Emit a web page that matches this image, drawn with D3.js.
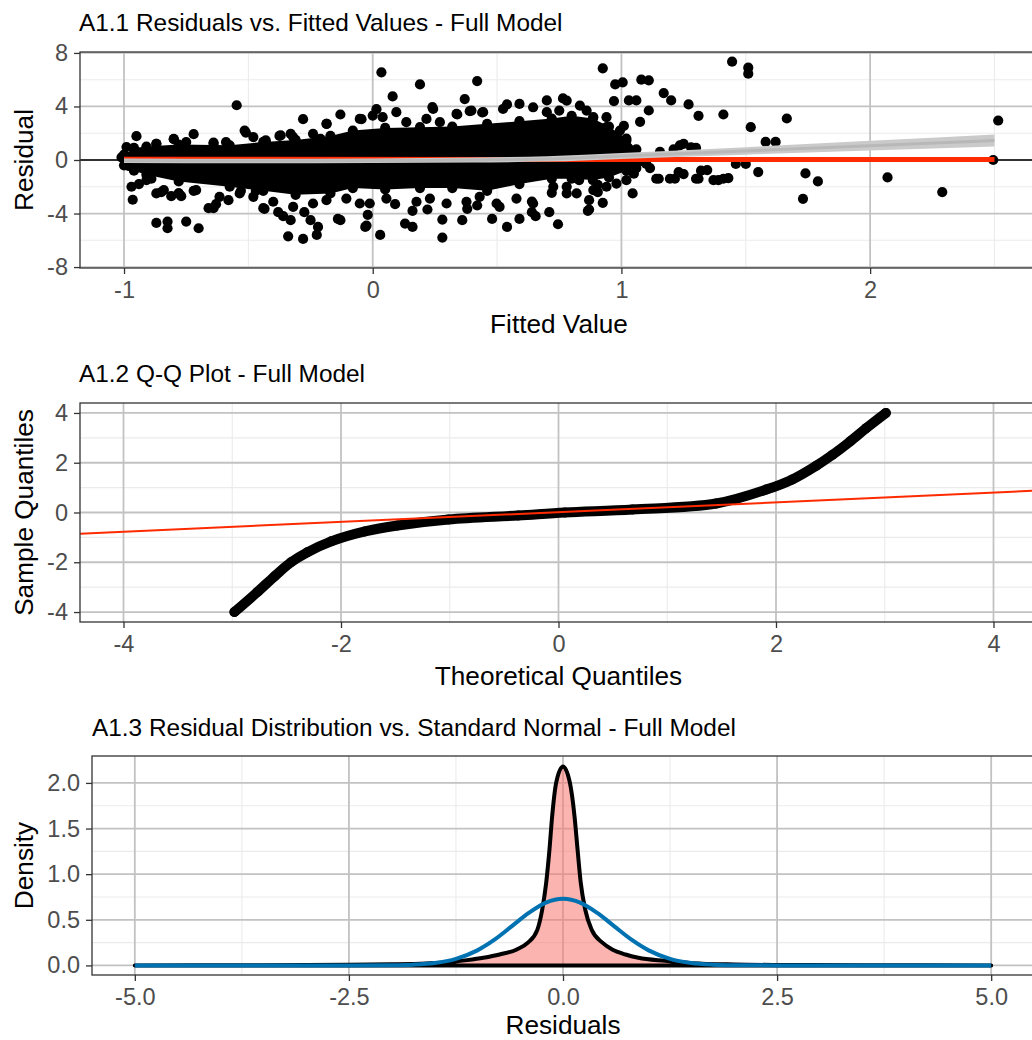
<!DOCTYPE html>
<html>
<head>
<meta charset="utf-8">
<script src="https://cdn.jsdelivr.net/npm/d3@7"></script>
<style>
  body { margin: 0; background: #fff; }
</style>
</head>
<body>
<div id="chart-area"></div>
<script>
// ---------- A1.1 residuals vs fitted ----------
var fitTicks = [-1, 0, 1, 2];
var fitTickLabels = ["-1", "0", "1", "2"];
var residTicks = [-8, -4, 0, 4, 8];
var residTickLabels = ["-8", "-4", "0", "4", "8"];

// dense core of the point cloud (upper / lower edge per fitted value)
var coreX  = [-1.0, -0.96, -0.91, -0.78, -0.575, -0.44, -0.31, -0.17, -0.08, 0.05, 0.19, 0.32, 0.46, 0.59, 0.72, 0.8, 0.885, 0.95, 1.02, 1.06, 1.1];
var coreUp = [0.4, 0.9, 1.0, 1.15, 1.1, 1.35, 1.5, 1.8, 2.2, 2.4, 2.45, 2.5, 2.7, 2.9, 3.1, 3.3, 3.1, 2.5, 1.6, 0.8, 0.2];
var coreLo = [-0.4, -0.8, -1.1, -1.6, -2.0, -2.3, -2.6, -2.5, -2.1, -2.2, -2.1, -2.1, -2.3, -1.8, -1.4, -1.4, -1.5, -1.3, -0.8, -0.6, -0.3];

// single points around and outside the core
var ptFitted = [-1.01, -0.98, -0.99, -0.95, -0.87, -0.80, -0.72, -0.64, -0.547, -0.515, -0.51, -0.43, -0.375, -0.33, -0.28, -0.185, -0.13, -0.045, 0.015, 0.04, 0.035, 0.08, 0.19, 0.24, 0.34, 0.37, 0.39, 0.42, 0.44, 0.54, 0.70, 0.765, 0.925, 0.94, 0.97, 0.975, 1.005, 1.01, 1.03, 1.06, 1.075, 1.08, 1.11, 1.11, 1.155, 1.17, 1.20, 1.21, 1.235, 1.25, 1.27, 1.28, 1.30, 1.31, 1.41, 1.445, 1.51, 1.51, 1.52, 1.58, 1.62, 1.665, 2.515, 2.495,
  -0.97, -0.965, -0.94, -0.89, -0.87, -0.85, -0.87, -0.825, -0.825, -0.81, -0.78, -0.77, -0.75, -0.72, -0.70, -0.66, -0.64, -0.63, -0.58, -0.53, -0.47, -0.44, -0.435, -0.38, -0.36, -0.34, -0.33, -0.28, -0.275, -0.25, -0.225, -0.22, -0.14, -0.13, -0.03, -0.025, -0.02, 0.03, 0.09, 0.13, 0.16, 0.16, 0.22, 0.28, 0.28, 0.36, 0.38, 0.42, 0.48, 0.51, 0.54, 0.59, 0.64, 0.64, 0.655, 0.71, 0.72, 0.745, 0.83, 0.865, 0.87, 0.905, 0.905, 0.925, 1.045, 1.115, 1.14, 1.15, 1.195, 1.215, 1.23, 1.25, 1.30, 1.31, 1.32, 1.345, 1.37, 1.39, 1.41, 1.43, 1.46, 1.50, 1.55, 1.73, 1.74, 1.79, 2.07, 2.29,
  -0.87, -0.80, -0.75, -0.64, -0.59, -0.48, -0.43, -0.37, -0.32, -0.24, -0.21,
  -0.186, -0.052, 0.0, 0.095, 0.135, 0.216, 0.243, 0.27, 0.337, 0.397, 0.444, 0.524, 0.59, 0.645, 0.70, 0.75,
  0.78, 0.833, 0.86, 0.887, 0.94, 0.994, 1.02, 0.806, 0.927,
  -0.91, -0.84, -0.78, -0.71, -0.616, -0.535, -0.48, -0.40, -0.32, -0.24,
  -0.186, -0.106, -0.052, -0.012, 0.055, 0.176, 0.23, 0.297, 0.377, 0.43, 0.498, 0.578, 0.645, 0.726, 0.78,
  0.78, 0.82, 0.887, 0.94, 0.98, 1.02, 1.05, 0.87];
var ptResid = [0.2, -0.45, 0.97, 1.78, 1.2, 1.55, 1.93, 1.3, 4.09, 2.2, 2.05, 1.3, 1.8, 1.95, 3.05, 2.7, 3.4, 3.05, 3.8, 3.2, 6.55, 4.75, 5.65, 3.95, 3.4, 4.55, 3.65, 5.9, 3.55, 4.15, 4.45, 4.6, 6.85, 3.2, 4.4, 5.65, 5.8, 2.55, 4.45, 4.45, 2.85, 6.0, 5.95, 3.7, 0.6, 5.0, 4.45, 0.8, 1.1, 1.2, 4.15, 0.95, 0.9, 3.3, 3.4, 7.35, 6.9, 6.45, 2.45, 1.35, 1.35, 3.1, 2.95, 0.0,
  -2.0, -2.97, -1.8, -1.4, -2.5, -2.4, -4.7, -4.6, -5.1, -2.7, -2.5, -2.7, -4.6, -2.3, -5.1, -3.6, -3.6, -3.3, -3.0, -2.3, -2.3, -3.6, -3.65, -3.9, -4.2, -5.7, -4.5, -5.9, -3.9, -4.5, -5.6, -5.0, -4.4, -4.5, -5.0, -4.9, -4.1, -5.6, -3.3, -4.75, -5.0, -3.8, -3.7, -4.45, -5.8, -4.5, -3.65, -3.4, -4.4, -3.5, -5.0, -4.4, -3.9, -3.1, -4.2, -3.9, -2.45, -4.8, -1.5, -3.8, -3.7, -1.85, -2.4, -3.2, -2.5, -0.6, -1.4, -1.4, -1.4, -1.4, -0.9, -1.05, -1.4, -1.4, -0.8, -0.75, -1.5, -1.5, -1.4, -1.35, -0.3, -0.3, -0.9, -2.9, -1.0, -1.6, -1.3, -2.4,
  1.21, 1.58, 1.34, 1.21, 1.34, 1.71, 1.46, 1.84, 1.71, 1.96, 1.58,
  2.7, 3.07, 3.32, 3.57, 2.83, 3.07, 3.81, 2.83, 3.44, 3.69, 3.57, 3.81, 4.19, 3.94, 3.57, 3.69,
  4.44, 4.07, 3.69, 3.2, 2.45, 2.2, 1.46, 2.45, 1.71,
  -1.51, -2.25, -2.5, -2.25, -2.75, -2.5, -2.75, -3.12, -3.5, -3.25,
  -3.0, -2.88, -3.25, -3.25, -2.88, -3.12, -2.88, -3.25, -3.12, -2.75, -3.25, -2.88, -3.25, -2.0, -2.5,
  -2.0, -2.5, -2.25, -2.0, -1.76, -1.51, -1.02, -3.0];

// linear fit (red) and smooth (grey band)
var lmX = [-1.0, 2.5];
var lmY = [0.05, 0.03];
var smoothX   = [-1.0, -0.5, 0.0, 0.4, 0.7, 1.0, 1.5, 2.0, 2.5];
var smoothMid = [-0.05, -0.07, -0.05, 0.0, 0.08, 0.3, 0.68, 1.07, 1.45];
var smoothHalf = [0.17, 0.17, 0.17, 0.18, 0.2, 0.22, 0.28, 0.36, 0.45];

// ---------- A1.2 Q-Q ----------
var qqTicks = [-4, -2, 0, 2, 4];
var qqTickLabels = ["-4", "-2", "0", "2", "4"];
var qqTheo   = [-2.98, -2.77, -2.61, -2.46, -2.31, -2.09, -1.78, -1.48, -1.01, -0.37, 0.06, 0.68, 1.45, 1.91, 2.15, 2.37, 2.52, 2.68, 2.83, 3.01];
var qqSample = [-4.0, -3.2, -2.56, -2.0, -1.6, -1.16, -0.76, -0.52, -0.28, -0.12, 0.0, 0.12, 0.36, 0.92, 1.33, 1.88, 2.32, 2.85, 3.39, 4.0];
var qqLineX = [-4.4, 4.4];
var qqLineY = [-0.85, 0.88];

// ---------- A1.3 density ----------
var resTicks = [-5, -2.5, 0, 2.5, 5];
var resTickLabels = ["-5.0", "-2.5", "0.0", "2.5", "5.0"];
var densTicks = [0, 0.5, 1, 1.5, 2];
var densTickLabels = ["0.0", "0.5", "1.0", "1.5", "2.0"];
var densX = [-5, -3.5, -2.5, -2, -1.6, -1.3, -1.12, -0.93, -0.74, -0.54, -0.41, -0.30, -0.243, -0.197, -0.158, -0.127, -0.08, 0, 0.081, 0.135, 0.17, 0.208, 0.26, 0.335, 0.46, 0.575, 0.73, 0.88, 1.19, 1.5, 2, 2.5, 3.5, 5];
var densY = [0, 0.002, 0.006, 0.012, 0.022, 0.038, 0.058, 0.084, 0.12, 0.175, 0.25, 0.39, 0.61, 0.90, 1.27, 1.63, 2.0, 2.18, 2.0, 1.63, 1.27, 0.90, 0.61, 0.39, 0.25, 0.175, 0.12, 0.084, 0.05, 0.025, 0.01, 0.005, 0.002, 0];
var normX = [-5, -2.5, -2, -1.75, -1.5, -1.25, -1.0, -0.8, -0.6, -0.4, -0.2, 0, 0.2, 0.4, 0.6, 0.8, 1.0, 1.25, 1.5, 1.75, 2, 2.5, 5];
var normY = [0, 0, 0.002, 0.008, 0.026, 0.072, 0.165, 0.282, 0.428, 0.575, 0.688, 0.73, 0.688, 0.575, 0.428, 0.282, 0.165, 0.072, 0.026, 0.008, 0.002, 0, 0];

var FONT = "'Liberation Sans', Arial, Helvetica, sans-serif";
var svg = d3.select("#chart-area")
    .append("svg")
    .attr("width", 1032)
    .attr("height", 1040)
    .style("font-family", FONT);

function makePanel(p) {
    var x = d3.scaleLinear().domain(p.xDomain).range([p.left, p.right]);
    var y = d3.scaleLinear().domain(p.yDomain).range([p.bottom, p.top]);
    svg.append("clipPath").attr("id", p.id).append("rect")
        .attr("x", p.left).attr("y", p.top)
        .attr("width", p.right - p.left).attr("height", p.bottom - p.top);
    var g = svg.append("g");
    var grid = g.append("g").attr("clip-path", "url(#" + p.id + ")");
    grid.selectAll(null).data(p.xMinor).enter().append("line")
        .attr("x1", d => x(d)).attr("x2", d => x(d)).attr("y1", p.top).attr("y2", p.bottom)
        .attr("stroke", "#ebebeb").attr("stroke-width", 1.1);
    grid.selectAll(null).data(p.yMinor).enter().append("line")
        .attr("y1", d => y(d)).attr("y2", d => y(d)).attr("x1", p.left).attr("x2", p.right)
        .attr("stroke", "#ebebeb").attr("stroke-width", 1.1);
    grid.selectAll(null).data(p.xTicks).enter().append("line")
        .attr("x1", d => x(d)).attr("x2", d => x(d)).attr("y1", p.top).attr("y2", p.bottom)
        .attr("stroke", "#c2c2c2").attr("stroke-width", 1.8);
    grid.selectAll(null).data(p.yTicks).enter().append("line")
        .attr("y1", d => y(d)).attr("y2", d => y(d)).attr("x1", p.left).attr("x2", p.right)
        .attr("stroke", "#c2c2c2").attr("stroke-width", 1.8);
    var plot = g.append("g").attr("clip-path", "url(#" + p.id + ")");

    function finish() {
        g.append("rect")
            .attr("x", p.left).attr("y", p.top)
            .attr("width", p.right - p.left).attr("height", p.bottom - p.top)
            .attr("fill", "none").attr("stroke", "#333").attr("stroke-width", 1.3);
        var xa = g.append("g")
            .attr("transform", "translate(0," + p.bottom + ")")
            .call(d3.axisBottom(x).tickValues(p.xTicks).tickFormat((d, i) => p.xLabels[i]).tickSize(6).tickPadding(7.5));
        var ya = g.append("g")
            .attr("transform", "translate(" + p.left + ",0)")
            .call(d3.axisLeft(y).tickValues(p.yTicks).tickFormat((d, i) => p.yLabels[i]).tickSize(6).tickPadding(6));
        [xa, ya].forEach(a => {
            a.select(".domain").remove();
            a.attr("font-family", FONT).attr("font-size", 23.5);
            a.selectAll("line").attr("stroke", "#333").attr("stroke-width", 1.3);
            a.selectAll("text").attr("fill", "#4d4d4d");
        });
        svg.append("text")
            .attr("x", p.titleX).attr("y", p.titleY)
            .attr("font-size", 24.4).attr("fill", "#000")
            .text(p.title);
        svg.append("text")
            .attr("x", (p.left + p.right) / 2).attr("y", p.xTitleY)
            .attr("text-anchor", "middle").attr("font-size", 26.2)
            .text(p.xTitle);
        svg.append("text")
            .attr("transform", "translate(33," + ((p.top + p.bottom) / 2) + ") rotate(-90)")
            .attr("text-anchor", "middle").attr("font-size", 26.2)
            .text(p.yTitle);
    }
    return { x: x, y: y, plot: plot, finish: finish };
}

// ---------- panel 1 ----------
var p1 = makePanel({
    id: "c1", left: 80, right: 1038, top: 52, bottom: 268,
    xDomain: [-1.177, 2.675], yDomain: [-8.07, 8.07],
    xTicks: fitTicks, xLabels: fitTickLabels, xMinor: [-0.5, 0.5, 1.5, 2.5],
    yTicks: residTicks, yLabels: residTickLabels, yMinor: [-6, -2, 2, 6],
    title: "A1.1 Residuals vs. Fitted Values - Full Model", titleX: 79, titleY: 31,
    xTitle: "Fitted Value", xTitleY: 333, yTitle: "Residual"
});
p1.plot.append("line")
    .attr("x1", 80).attr("x2", 1038).attr("y1", p1.y(0)).attr("y2", p1.y(0))
    .attr("stroke", "#000").attr("stroke-width", 1.3);
var core = coreX.map((d, i) => ({ x: d, up: coreUp[i], lo: coreLo[i] }));
p1.plot.append("path")
    .datum(core)
    .attr("d", d3.area().x(d => p1.x(d.x)).y0(d => p1.y(d.lo)).y1(d => p1.y(d.up)))
    .attr("fill", "#000");
var pts = ptFitted.map((d, i) => ({ x: d, y: ptResid[i] }));
core.forEach(d => { pts.push({ x: d.x, y: d.up }); pts.push({ x: d.x, y: d.lo }); });
p1.plot.selectAll("circle").data(pts).enter().append("circle")
    .attr("cx", d => p1.x(d.x)).attr("cy", d => p1.y(d.y)).attr("r", 5.1)
    .attr("fill", "#000");
p1.plot.append("path")
    .datum(lmX.map((d, i) => [d, lmY[i]]))
    .attr("d", d3.line().x(d => p1.x(d[0])).y(d => p1.y(d[1])))
    .attr("stroke", "#ff2a00").attr("stroke-width", 5).attr("fill", "none");
var sm = smoothX.map((d, i) => ({ x: d, m: smoothMid[i], h: smoothHalf[i] }));
p1.plot.append("path")
    .datum(sm)
    .attr("d", d3.area().curve(d3.curveMonotoneX).x(d => p1.x(d.x)).y0(d => p1.y(d.m - d.h)).y1(d => p1.y(d.m + d.h)))
    .attr("fill", "#cacaca");
p1.plot.append("path")
    .datum(sm)
    .attr("d", d3.line().curve(d3.curveMonotoneX).x(d => p1.x(d.x)).y(d => p1.y(d.m)))
    .attr("stroke", "#b8b8b8").attr("stroke-width", 3).attr("fill", "none");
p1.finish();

// ---------- panel 2 ----------
var p2 = makePanel({
    id: "c2", left: 80, right: 1037, top: 403, bottom: 622,
    xDomain: [-4.4, 4.4], yDomain: [-4.4, 4.4],
    xTicks: qqTicks, xLabels: qqTickLabels, xMinor: [-3, -1, 1, 3],
    yTicks: qqTicks, yLabels: qqTickLabels, yMinor: [-3, -1, 1, 3],
    title: "A1.2 Q-Q Plot - Full Model", titleX: 79, titleY: 382,
    xTitle: "Theoretical Quantiles", xTitleY: 685, yTitle: "Sample Quantiles"
});
var qq = qqTheo.map((d, i) => [d, qqSample[i]]);
p2.plot.append("path")
    .datum(qq)
    .attr("d", d3.line().curve(d3.curveCatmullRom).x(d => p2.x(d[0])).y(d => p2.y(d[1])))
    .attr("stroke", "#000").attr("stroke-width", 10).attr("stroke-linecap", "round").attr("fill", "none");
p2.plot.selectAll("circle").data(qq).enter().append("circle")
    .attr("cx", d => p2.x(d[0])).attr("cy", d => p2.y(d[1])).attr("r", 5)
    .attr("fill", "#000");
p2.plot.append("path")
    .datum(qqLineX.map((d, i) => [d, qqLineY[i]]))
    .attr("d", d3.line().x(d => p2.x(d[0])).y(d => p2.y(d[1])))
    .attr("stroke", "#ff2a00").attr("stroke-width", 2).attr("fill", "none");
p2.finish();

// ---------- panel 3 ----------
var p3 = makePanel({
    id: "c3", left: 92, right: 1034, top: 756, bottom: 975,
    xDomain: [-5.5, 5.5], yDomain: [-0.105, 2.295],
    xTicks: resTicks, xLabels: resTickLabels, xMinor: [-3.75, -1.25, 1.25, 3.75],
    yTicks: densTicks, yLabels: densTickLabels, yMinor: [0.25, 0.75, 1.25, 1.75],
    title: "A1.3 Residual Distribution vs. Standard Normal - Full Model", titleX: 92, titleY: 736,
    xTitle: "Residuals", xTitleY: 1034, yTitle: "Density"
});
var dens = densX.map((d, i) => [d, densY[i]]);
p3.plot.append("path")
    .datum(dens)
    .attr("d", d3.area().curve(d3.curveMonotoneX).x(d => p3.x(d[0])).y0(p3.y(0)).y1(d => p3.y(d[1])))
    .attr("fill", "#f8766d").attr("fill-opacity", 0.55)
    .attr("stroke", "#000").attr("stroke-width", 4).attr("stroke-linejoin", "round");
p3.plot.append("path")
    .datum(normX.map((d, i) => [d, normY[i]]))
    .attr("d", d3.line().curve(d3.curveMonotoneX).x(d => p3.x(d[0])).y(d => p3.y(d[1])))
    .attr("stroke", "#0072b2").attr("stroke-width", 4).attr("fill", "none");
p3.finish();
</script>
</body>
</html>
